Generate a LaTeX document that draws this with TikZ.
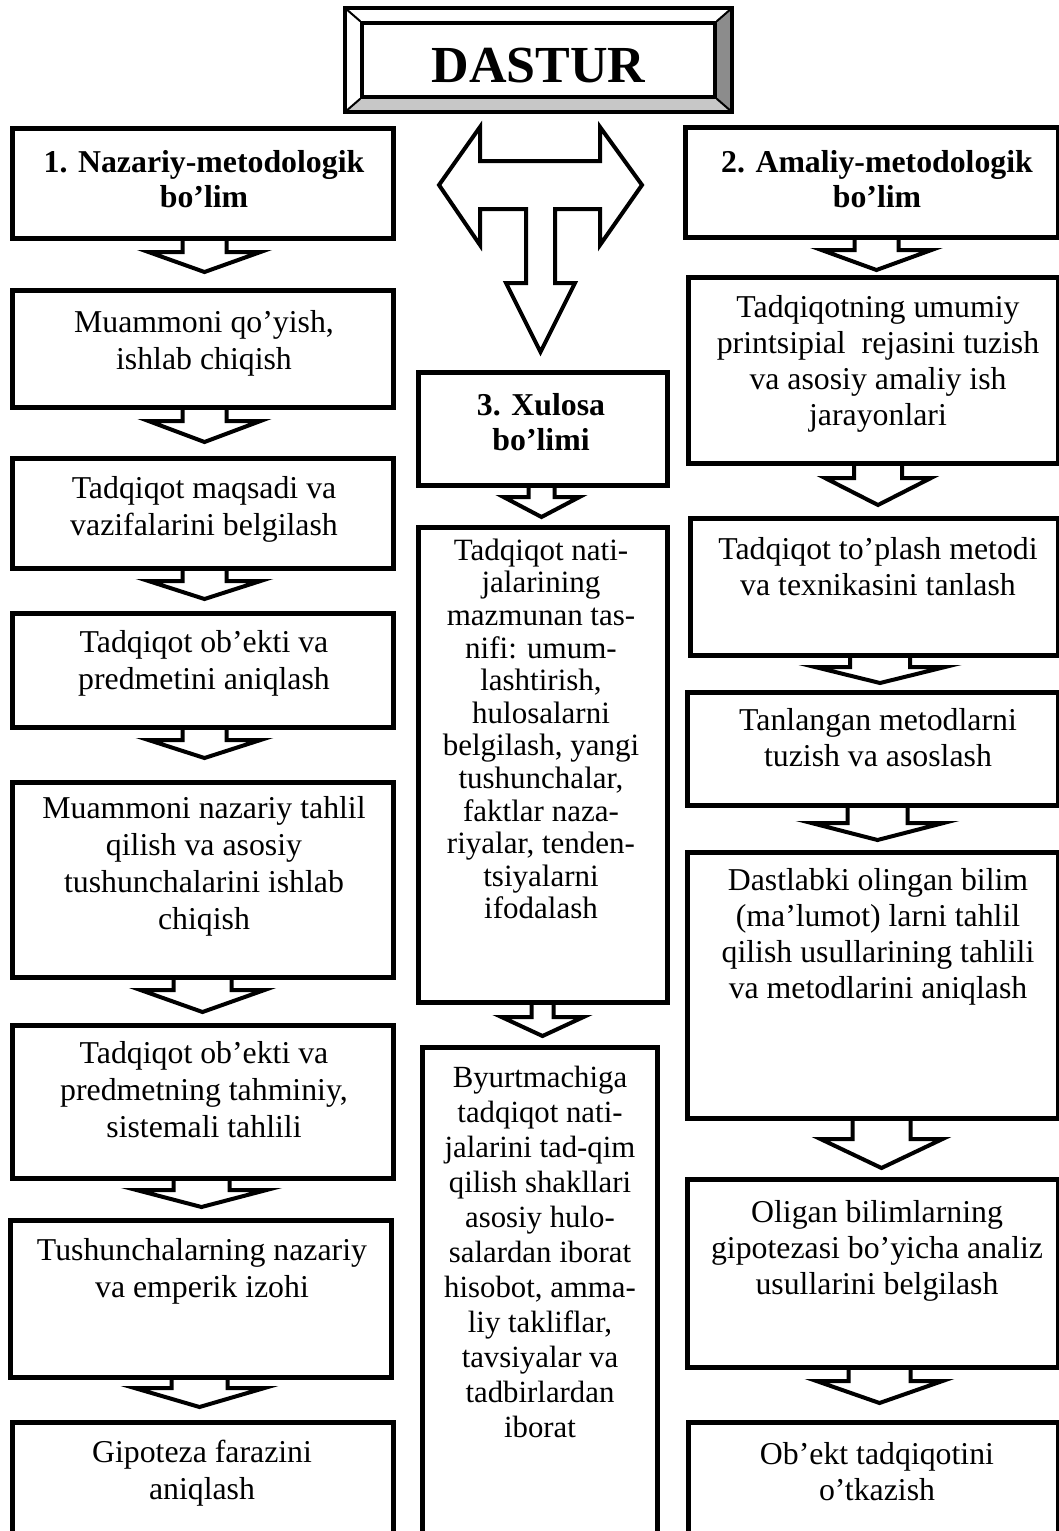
\documentclass[tikz,border=0pt]{standalone}
\usepackage{fontspec}
\setmainfont{Liberation Serif}
\usetikzlibrary{calc}
\newcommand\myfs{\rule{0pt}{24pt}}
\tikzset{
  box/.style={draw, line width=5pt, rectangle, inner sep=0pt, outer sep=0pt},
  txt/.style={align=center, inner sep=0pt, anchor=north, font=\fontsize{31.8}{37}\selectfont},
  txtr/.style={txt, font=\fontsize{31.8}{36}\selectfont},
  txtm/.style={txt, font=\fontsize{31}{32.6}\selectfont},
  txtb/.style={txt, font=\fontsize{30.8}{35}\selectfont},
  hd/.style={txt, font=\bfseries\fontsize{31.8}{35}\selectfont},
  arr/.style={draw, line width=4pt, line join=miter},
}
% box: name, x1, y1, x2, y2
\newcommand\bx[5]{\node[box, minimum width={#4-#2}, minimum height={#5-#3}] (#1) at ({(#2+#4)/2},{(#3+#5)/2}) {};}
% down arrow: node, xshift, half shaft, half head, shaft length, total length
\newcommand\dn[6]{\draw[arr] ($(#1.south)+(#2-#3,0)$) -- ($(#1.south)+(#2-#3,#5)$) -- ($(#1.south)+(#2-#4,#5)$) -- ($(#1.south)+(#2,#6)$) -- ($(#1.south)+(#2+#4,#5)$) -- ($(#1.south)+(#2+#3,#5)$) -- ($(#1.south)+(#2+#3,0)$);}
\begin{document}
\begin{tikzpicture}[x=1pt, y=-1pt]
\useasboundingbox (0,0) rectangle (1058,1531);
\fill[white] (0,0) rectangle (1058,1531);

% ---------- DASTUR ----------
\fill[black!22] (345,112) -- (732,112) -- (715,97) -- (362,97) -- cycle;
\fill[black!45] (732,8) -- (732,112) -- (715,97) -- (715,23) -- cycle;
\draw[line width=4pt] (345,8) rectangle (732,112);
\node[draw, line width=3.5pt, minimum width=353pt, minimum height=74pt, inner sep=0pt] (dastur) at (538.5,60) {};
\draw[line width=2pt] (345,8) -- (dastur.north west) (732,8) -- (dastur.north east)
  (345,112) -- (dastur.south west) (732,112) -- (dastur.south east);
\node[font=\bfseries\fontsize{52}{60}\selectfont, anchor=base, inner sep=0pt] (dtitle) at (538.5,82) {DASTUR};

% ---------- T arrow ----------
\draw[arr] (439,185) -- (480,127) -- (480,161) -- (600,161) -- (600,127) -- (642,185)
  -- (600,245) -- (600,209) -- (555,209) -- (555,283) -- (575,283) -- (540.5,352)
  -- (506,283) -- (526,283) -- (526,209) -- (480,209) -- (480,245) -- cycle;

% ---------- left column ----------
\bx{b1}{12}{128}{393}{238}
\bx{b2}{12}{290}{393}{407}
\bx{b3}{12}{458}{393}{568}
\bx{b4}{12}{613}{393}{727}
\bx{b5}{12}{782}{393}{977}
\bx{b6}{12}{1025}{393}{1178}
\bx{b7}{10}{1220}{391}{1377}
\bx{b8}{12}{1422}{393}{1560}

\dn{b1}{2}{22}{56}{14}{34}
\dn{b2}{2}{22}{56}{14}{35}
\dn{b3}{2}{22}{56}{13}{31}
\dn{b4}{2}{22}{56}{13}{31}
\dn{b5}{0}{29}{62}{13}{35}
\dn{b6}{-1}{28}{65}{12}{29}
\dn{b7}{-1}{28}{65}{11}{30}

\node[hd] (t1) at (204,148) {\myfs 1. Nazariy-metodologik\\bo’lim};
\node[txt] (t2) at (204,308) {\myfs Muammoni qo’yish,\\ishlab chiqish};
\node[txt] (t3) at (204,474) {\myfs Tadqiqot maqsadi va\\vazifalarini belgilash};
\node[txt] (t4) at (204,628) {\myfs Tadqiqot ob’ekti va\\predmetini aniqlash};
\node[txt] (t5) at (204,794) {\myfs Muammoni nazariy tahlil\\qilish va asosiy\\tushunchalarini ishlab\\chiqish};
\node[txt] (t6) at (204,1039) {\myfs Tadqiqot ob’ekti va\\predmetning tahminiy,\\sistemali tahlili};
\node[txt] (t7) at (202,1236) {\myfs Tushunchalarning nazariy\\va emperik izohi};
\node[txt] (t8) at (202,1438) {\myfs Gipoteza farazini\\aniqlash};

% ---------- middle column ----------
\bx{m1}{418}{372}{667}{485}
\bx{m2}{418}{527}{667}{1002}
\bx{m3}{422}{1047}{657}{1560}

\dn{m1}{-1}{13}{38}{12}{32}
\dn{m2}{0}{11}{41}{15}{34}

\node[hd] (u1) at (541,391) {\myfs 3. Xulosa\\bo’limi};
\node[txtm] (u2) at (541,536) {\myfs Tadqiqot nati-\\jalarining\\mazmunan tas-\\nifi: umum-\\lashtirish,\\hulosalarni\\belgilash, yangi\\tushunchalar,\\faktlar naza-\\riyalar, tenden-\\tsiyalarni\\ifodalash};
\node[txtb] (u3) at (540,1063) {\myfs Byurtmachiga\\tadqiqot nati-\\jalarini tad-qim\\qilish shakllari\\asosiy hulo-\\salardan iborat\\hisobot, amma-\\liy takliflar,\\tavsiyalar va\\tadbirlardan\\iborat};

% ---------- right column ----------
\bx{r1}{685}{127}{1058}{237}
\bx{r2}{688}{277}{1058}{463}
\bx{r3}{690}{518}{1058}{655}
\bx{r4}{687}{692}{1058}{805}
\bx{r5}{687}{852}{1058}{1118}
\bx{r6}{687}{1179}{1058}{1367}
\bx{r7}{688}{1422}{1058}{1560}

\dn{r1}{5}{22}{55}{13}{33}
\dn{r2}{5}{24}{53}{15}{42}
\dn{r3}{6}{30}{65}{12}{28}
\dn{r4}{5}{30}{66}{18}{35}
\dn{r5}{9}{29}{61}{21}{50}
\dn{r6}{7}{31}{63}{14}{36}

\node[hd] (s1) at (877,148) {\myfs 2. Amaliy-metodologik\\bo’lim};
\node[txtr] (s2) at (878,293) {\myfs Tadqiqotning umumiy\\printsipial\ \ rejasini tuzish\\va asosiy amaliy ish\\jarayonlari};
\node[txtr] (s3) at (878,535) {\myfs Tadqiqot to’plash metodi\\va texnikasini tanlash};
\node[txtr] (s4) at (878,706) {\myfs Tanlangan metodlarni\\tuzish va asoslash};
\node[txtr] (s5) at (878,866) {\myfs Dastlabki olingan bilim\\(ma’lumot) larni tahlil\\qilish usullarining tahlili\\va metodlarini aniqlash};
\node[txtr] (s6) at (877,1198) {\myfs Oligan bilimlarning\\gipotezasi bo’yicha analiz\\usullarini belgilash};
\node[txtr] (s7) at (877,1440) {\myfs Ob’ekt tadqiqotini\\o’tkazish};
\end{tikzpicture}
\end{document}
